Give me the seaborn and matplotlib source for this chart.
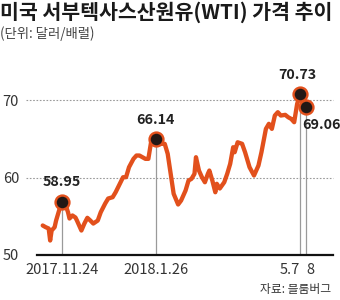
import matplotlib
matplotlib.use("Agg")
import matplotlib.pyplot as plt
import seaborn as sns
import pandas as pd

# days since 2017-11-24 (as drawn) and WTI price (USD/bbl)
days = [-13, -11, -9, -8, -7, -5, -4, -2, 0, 2, 4, 5, 7, 9, 10, 13, 15, 17, 19, 21,
        24, 26, 29, 31, 34, 36, 39, 41, 43, 45, 48, 50, 52, 56, 58, 60, 63, 66, 69, 71,
        73, 75, 78, 80, 83, 85, 87, 89, 90, 92, 94, 96, 98, 99, 101, 103, 104, 106, 109, 111,
        113, 115, 116, 118, 121, 123, 126, 129, 132, 134, 137, 139, 141, 143, 145, 147, 150, 152, 154, 156,
        158, 160, 164]
prices = [53.81, 53.59, 53.42, 51.87, 53.16, 53.59, 54.45, 55.74, 56.90, 56.65, 55.52, 54.71, 55.10, 54.84, 54.45, 53.16, 54.06, 54.80, 54.45, 54.06,
          54.45, 55.52, 56.65, 57.29, 57.46, 58.10, 59.26, 60.04, 60.04, 61.33, 62.41, 62.84, 62.84, 62.41, 62.41, 64.77, 64.97, 64.35, 64.35, 63.06,
          60.48, 57.90, 56.52, 57.03, 58.32, 59.61, 59.83, 60.48, 62.62, 60.90, 60.04, 59.39, 60.48, 60.90, 59.61, 58.10, 59.19, 58.58, 59.39, 60.48,
          61.77, 63.91, 63.26, 64.55, 64.35, 63.26, 61.33, 60.26, 61.55, 63.26, 66.28, 66.93, 66.28, 68.00, 68.43, 68.00, 68.09, 67.78, 67.57, 67.14,
          69.51, 70.73, 69.06]

mark_days = [0, 63, 160, 164]
mark_labels = ["58.95", "66.14", "70.73", "69.06"]
tick_labels = ["2017.11.24", "2018.1.26", "5.7", "8"]
y_ticks = [50, 60, 70]

title = "미국 서부텍사스산원유(WTI) 가격 추이"
subtitle = "(단위: 달러/배럴)"
source = "자료: 블룸버그"

df = pd.DataFrame({"day": days, "price": prices})
mark_vals = [prices[days.index(d)] for d in mark_days]
mdf = pd.DataFrame({"day": mark_days, "price": mark_vals})

sns.set_theme(style="white")
plt.rcParams["font.family"] = ["Noto Sans CJK KR", "DejaVu Sans"]

fig = plt.figure(figsize=(3.4, 3.0), dpi=100)
ax = fig.add_axes([0.109, 0.15, 0.870, 0.594])

red = "#E2501C"
for yv in [60, 70]:
    ax.axhline(yv, xmin=-0.037, xmax=1, color="#9a9a9a", lw=0.8,
               ls=(0, (1.5, 1.5)), clip_on=False, zorder=1)

ax.vlines(mark_days, 50, mark_vals, color="#9a9a9a", lw=0.9, zorder=2)

sns.lineplot(data=df, x="day", y="price", ax=ax, color=red, lw=3.1, zorder=3)
sns.scatterplot(data=mdf, x="day", y="price", ax=ax, s=100, color="#231815",
                edgecolor=red, linewidth=1.7, zorder=4)

offsets = [(0, 9, "center", "bottom"), (0, 9, "center", "bottom"),
           (-2, 9, "center", "bottom"), (-3, -7.5, "left", "top")]
for d, v, lab, (dx, dy, ha, va) in zip(mark_days, mark_vals, mark_labels, offsets):
    ax.annotate(lab, (d, v), xytext=(dx, dy), textcoords="offset points",
                ha=ha, va=va, fontsize=10.3, fontweight="bold", color="#222222")

ax.set_xlim(-16.8, 182)
ax.set_ylim(50, 73)
ax.set_yticks(y_ticks)
ax.set_yticklabels([str(t) for t in y_ticks])
ax.set_xticks(mark_days)
ax.set_xticklabels(tick_labels)
xt = ax.get_xticklabels()
xt[2].set_ha("right")
xt[3].set_ha("left")
ax.tick_params(axis="x", length=0, pad=6, labelsize=10.5, labelcolor="#333333")
ax.tick_params(axis="y", length=0, pad=13, labelsize=10.5, labelcolor="#333333")
ax.set_xlabel("")
ax.set_ylabel("")
for s in ["left", "right", "top"]:
    ax.spines[s].set_visible(False)
ax.spines["bottom"].set_color("#111111")
ax.spines["bottom"].set_linewidth(1.6)
ax.spines["bottom"].set_zorder(5)

fig.text(0.0, 0.958, title, fontsize=14.8, fontweight="bold", color="#1a1a1a",
         ha="left", va="center")
fig.text(0.0, 0.888, subtitle, fontsize=9.6, color="#444444", ha="left", va="center")
fig.text(0.975, 0.035, source, fontsize=8.5, color="#333333", ha="right", va="center")

fig.savefig("out.png", dpi=100)
